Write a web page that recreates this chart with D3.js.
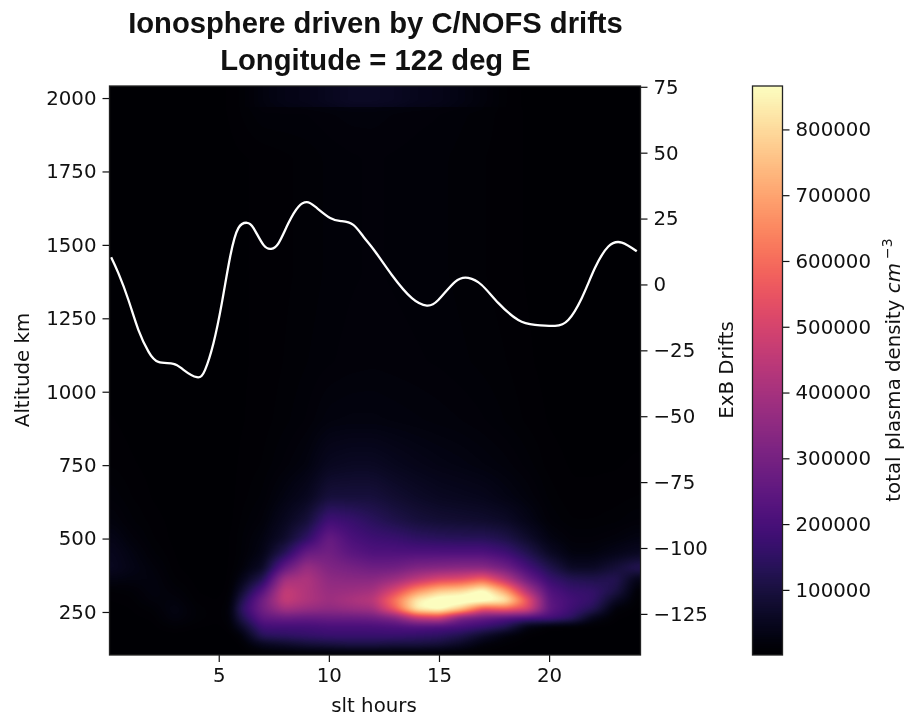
<!DOCTYPE html>
<html><head><meta charset="utf-8">
<script src="https://cdn.jsdelivr.net/npm/d3@7"></script>
<style>
html,body{margin:0;padding:0;background:#fff;width:910px;height:721px;overflow:hidden}
#wrap{position:relative;width:910px;height:721px}
canvas{position:absolute;left:0;top:0}
svg{position:absolute;left:0;top:0}
text{font-family:"DejaVu Sans";fill:#111}
</style></head><body><div id="wrap"><canvas id="c" width="910" height="721"></canvas><svg id="s" width="910" height="721"></svg></div>
<script>
const titleLines = ["Ionosphere driven by C/NOFS drifts", "Longitude = 122 deg E"];
const xTicks = [5, 10, 15, 20];
const altTicks = [250, 500, 750, 1000, 1250, 1500, 1750, 2000];
const driftTicks = [75, 50, 25, 0, -25, -50, -75, -100, -125];
const cbarTicks = [100000, 200000, 300000, 400000, 500000, 600000, 700000, 800000];
const altitudes = [110,140,170,200,230,260,290,320,360,400,450,500,560,640,750,900,1100,1400,1800,1960,1980,2040];
const hours = [0,1,2,3,4,5,5.5,6,7,8,9,10,11,12,13,14,15,16,17,18,19,20,21,22,23,24];
// density in thousands of cm^-3: one row per hour, one value per altitude
const densityK = [
[1,1,1,2,2,3,4,6,30,55,50,40,25,15,8,5,3,2,2,2,2,2],
[1,1,1,2,3,4,6,10,25,35,30,20,12,8,5,3,2,2,2,2,2,2],
[1,1,2,3,5,10,20,25,25,20,12,8,6,4,3,2,2,2,2,2,2,2],
[1,1,2,10,25,30,22,15,8,5,4,3,3,2,2,2,2,2,2,2,2,2],
[1,1,1,5,10,10,6,4,3,2,2,2,2,2,2,2,2,2,2,3,3,3],
[1,1,1,3,5,5,4,3,3,3,3,3,2,2,2,2,2,2,2,3,3,3],
[1,1,2,8,15,15,10,6,4,4,4,4,3,3,3,3,3,3,3,5,5,5],
[1,4,15,60,110,140,110,70,35,15,10,10,8,6,5,4,4,4,4,8,8,8],
[5,50,140,190,250,290,290,230,130,60,35,28,18,12,8,6,5,5,5,15,25,25],
[8,70,150,190,270,400,470,470,400,260,130,70,50,30,16,10,8,7,7,15,35,35],
[10,90,160,190,260,370,420,420,420,380,270,150,90,50,26,15,11,9,9,15,40,40],
[10,100,170,200,270,350,380,370,350,320,290,270,190,95,52,24,14,12,12,18,50,50],
[12,110,170,200,270,370,410,380,340,300,240,205,170,95,58,26,16,14,14,20,60,60],
[12,110,170,200,280,390,440,400,340,280,215,180,140,95,58,26,17,15,15,20,60,60],
[10,100,170,210,320,570,620,520,380,285,215,170,115,78,48,24,16,14,14,18,55,55],
[10,100,160,220,450,850,840,680,450,320,215,150,95,65,40,22,15,13,13,16,45,45],
[8,90,150,210,480,900,910,780,510,330,215,140,85,55,34,20,14,12,12,15,40,40],
[5,60,120,200,300,770,920,810,530,340,215,135,80,50,30,18,12,10,10,12,30,30],
[3,20,70,170,260,540,920,900,590,340,215,135,75,45,25,15,10,8,8,10,20,20],
[2,8,25,130,220,580,860,710,450,290,185,115,65,33,20,11,8,6,6,6,8,8],
[1,2,5,30,200,520,560,430,280,195,125,72,38,22,13,7,5,4,4,4,3,3],
[1,1,2,5,200,250,240,220,170,120,60,30,15,10,6,4,3,3,3,2,2,2],
[1,1,1,5,150,180,190,170,130,60,25,15,8,5,4,3,2,2,2,2,2,2],
[1,1,1,3,40,130,160,160,120,60,25,15,8,5,4,3,2,2,2,2,2,2],
[1,1,1,2,5,15,60,110,130,90,40,20,10,6,4,3,2,2,2,2,2,2],
[1,1,1,1,2,3,5,8,35,130,55,30,15,8,5,3,2,2,2,2,2,2]
];
const driftHours = [0.115,0.447,0.90,1.355,1.81,2.26,2.94,3.40,4.01,4.38,4.76,5.14,5.52,5.89,6.28,6.58,7.03,7.38,7.71,8.16,8.62,9.0,9.38,10.06,10.59,11.11,11.57,12.10,12.86,13.77,14.45,14.97,15.73,16.33,16.94,17.70,18.60,19.36,20.27,20.87,21.48,22.08,22.69,23.30,23.98];
const driftValues = [10.3,4.2,-5.9,-17.3,-25.5,-29.4,-30.1,-32.4,-35.2,-32.4,-22.3,-7.1,10.6,21.4,23.4,21.4,15.0,13.5,15.6,23.2,29.5,31.2,29.5,25.2,24.0,22.6,18.1,12.5,3.6,-5.2,-8.0,-5.9,1.0,2.5,-0.2,-7.1,-13.5,-15.3,-15.7,-13.5,-5.2,6.2,14.4,15.9,12.6];

const L=109.5,R=640.5,T=86,B=655,CL=752.5,CR=782.5;
const FS=19.8;
const x=d3.scaleLinear().domain([0.04,24.15]).range([L,R]);
const yAlt=d3.scaleLinear().domain([103.5,2041]).range([B,T]);
const yDrift=d3.scaleLinear().domain([-140.6,75.3]).range([B,T]);
const cScale=d3.scaleLinear().domain([1000,866000]).range([B,T]);
const color=d3.scaleSequential(d3.interpolateMagma).domain([1000,866000]);

function sample(h,a){
  const i=Math.max(0,Math.min(hours.length-2,d3.bisectRight(hours,h)-1));
  const j=Math.max(0,Math.min(altitudes.length-2,d3.bisectRight(altitudes,a)-1));
  const u=Math.max(0,Math.min(1,(h-hours[i])/(hours[i+1]-hours[i])));
  const v=Math.max(0,Math.min(1,(a-altitudes[j])/(altitudes[j+1]-altitudes[j])));
  return 1000*(densityK[i][j]*(1-u)*(1-v)+densityK[i+1][j]*u*(1-v)+densityK[i][j+1]*(1-u)*v+densityK[i+1][j+1]*u*v);
}
const ctx=document.getElementById('c').getContext('2d');
const x0=Math.round(L),x1=Math.round(R),y0=Math.round(T),y1=Math.round(B),W=x1-x0,H=y1-y0;
let field=new Float64Array(W*H);
for(let b=0;b<H;b++)for(let a=0;a<W;a++)field[b*W+a]=sample(x.invert(x0+a+.5),yAlt.invert(y0+b+.5));
// the bilinear field is softened a little, as the reference image is
function smooth(src,dx,dy,r,skipTop){
  const out=new Float64Array(W*H);
  for(let b=0;b<H;b++)for(let a=0;a<W;a++){
    let s=0,n=0;
    for(let k=-r;k<=r;k++){
      const aa=a+k*dx,bb=b+k*dy;
      if(aa<0||aa>=W||bb<0||bb>=H)continue;
      if(dy&&((b<skipTop)!==(bb<skipTop)))continue;
      s+=src[bb*W+aa];n++;
    }
    out[b*W+a]=s/n;
  }
  return out;
}
const stripeRows=Math.round(yAlt(1970))-y0;
for(let p=0;p<3;p++){field=smooth(field,1,0,3,0);field=smooth(field,0,1,2,stripeRows);}
for(let b=0;b<H;b++)for(let a=0;a<W;a++){
  ctx.fillStyle=color(field[b*W+a]);
  ctx.fillRect(x0+a,y0+b,1,1);
}
for(let py=y0;py<y1;py++){
  ctx.fillStyle=color(cScale.invert(py+.5));
  ctx.fillRect(CL,py,CR-CL,1);
}

const svg=d3.select('#s');
svg.append('path').attr('fill','none').attr('stroke','#fff').attr('stroke-width',2.3).attr('stroke-linejoin','round')
  .attr('d',d3.line().x(d=>x(d[0])).y(d=>yDrift(d[1])).curve(d3.curveNatural)(driftHours.map((h,i)=>[h,driftValues[i]])));

function style(g){
  g.selectAll('text').style('font-size',FS+'px').style('font-family','"DejaVu Sans"');
  g.selectAll('line').attr('stroke','#111').attr('stroke-width',1.2);
  g.select('.domain').remove();
}
const tk=7,pd=6;
svg.append('g').attr('transform',`translate(0,${B})`).call(d3.axisBottom(x).tickValues(xTicks).tickSize(tk).tickPadding(pd)).call(style);
svg.append('g').attr('transform',`translate(${L},0)`).call(d3.axisLeft(yAlt).tickValues(altTicks).tickSize(tk).tickPadding(pd).tickFormat(d3.format('d'))).call(style);
svg.append('g').attr('transform',`translate(${R},0)`).call(d3.axisRight(yDrift).tickValues(driftTicks).tickSize(tk).tickPadding(pd).tickFormat(d=>String(d).replace('-','\u2212'))).call(style);
svg.append('g').attr('transform',`translate(${CR},0)`).call(d3.axisRight(cScale).tickValues(cbarTicks).tickSize(tk).tickPadding(pd).tickFormat(d3.format('d'))).call(style);

svg.append('rect').attr('x',L).attr('y',T).attr('width',R-L).attr('height',B-T).attr('fill','none').attr('stroke','#222').attr('stroke-width',1.3);
svg.append('rect').attr('x',CL).attr('y',T).attr('width',CR-CL).attr('height',B-T).attr('fill','none').attr('stroke','#222').attr('stroke-width',1.3);

svg.selectAll('.ttl').data(titleLines).join('text').attr('class','ttl')
  .attr('x',375.5).attr('y',(d,i)=>33+i*37).attr('text-anchor','middle')
  .style('font-family','"Liberation Sans"').style('font-weight','bold').style('font-size','29.2px').text(d=>d);
svg.append('text').attr('x',374).attr('y',712).attr('text-anchor','middle').style('font-size',FS+'px').text('slt hours');
svg.append('text').attr('transform','translate(29,370) rotate(-90)').attr('text-anchor','middle').style('font-size',FS+'px').text('Altitude km');
svg.append('text').attr('transform','translate(733,370) rotate(-90)').attr('text-anchor','middle').style('font-size',FS+'px').text('ExB Drifts');
const cb=svg.append('text').attr('transform','translate(900,370) rotate(-90)').attr('text-anchor','middle').style('font-size',FS+'px');
cb.append('tspan').text('total plasma density ');
cb.append('tspan').style('font-style','italic').text('cm');
cb.append('tspan').attr('dy',-8).attr('dx',4).style('font-size','14px').text('\u22123');
</script></body></html>
